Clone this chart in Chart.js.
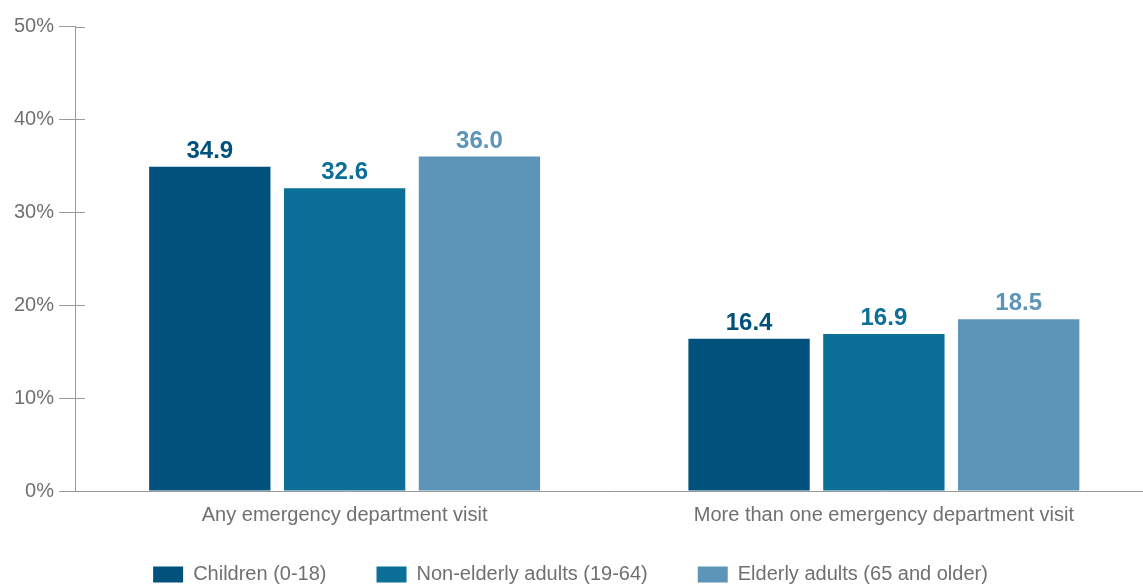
<!DOCTYPE html>
<html>
<head>
<meta charset="utf-8">
<script src="https://cdn.jsdelivr.net/npm/chart.js@4.4.1/dist/chart.umd.min.js"></script>
<style>
  html, body { margin: 0; padding: 0; background: #fff; overflow: hidden; }
  #wrap { position: relative; width: 1155px; height: 586px; }
</style>
</head>
<body>
<div id="wrap"><canvas id="chart"></canvas></div>
<script>
// Share of each age group with emergency department visits (%)
const categories = ['Any emergency department visit', 'More than one emergency department visit'];
const seriesNames = ['Children (0-18)', 'Non-elderly adults (19-64)', 'Elderly adults (65 and older)'];
const children = [34.9, 16.4];
const nonElderlyAdults = [32.6, 16.9];
const elderlyAdults = [36.0, 18.5];
const yTickValues = [0, 10, 20, 30, 40, 50];

const palette = ['#00527d', '#0b6f98', '#5d95b8'];
const axisColor = '#9a9a9a';
const textColor = '#707070';
const fontFamily = "'Liberation Sans', Arial, Helvetica, sans-serif";

// Bold value printed above every bar, in the bar's own colour
const valueLabels = {
  id: 'valueLabels',
  afterDatasetsDraw(chart) {
    const ctx = chart.ctx;
    ctx.save();
    ctx.font = `bold 24px ${fontFamily}`;
    ctx.textAlign = 'center';
    ctx.textBaseline = 'alphabetic';
    chart.data.datasets.forEach((ds, i) => {
      const meta = chart.getDatasetMeta(i);
      ctx.fillStyle = ds.backgroundColor;
      meta.data.forEach((bar, j) => {
        ctx.fillText(ds.data[j].toFixed(1), bar.x, bar.y - 9);
      });
    });
    ctx.restore();
  }
};

// Short tick stubs that cross the y axis into the plot
const innerTicks = {
  id: 'innerTicks',
  afterDraw(chart) {
    const ctx = chart.ctx;
    const y = chart.scales.y;
    const left = chart.chartArea.left;
    ctx.save();
    ctx.strokeStyle = axisColor;
    ctx.lineWidth = 1;
    y.ticks.forEach(t => {
      const py = Math.round(y.getPixelForValue(t.value)) + 0.5;
      ctx.beginPath();
      ctx.moveTo(left, py);
      ctx.lineTo(left + 10, py);
      ctx.stroke();
    });
    ctx.restore();
  }
};

new Chart(document.getElementById('chart'), {
  type: 'bar',
  data: {
    labels: categories,
    datasets: [
      { label: seriesNames[0], data: children, backgroundColor: palette[0] },
      { label: seriesNames[1], data: nonElderlyAdults, backgroundColor: palette[1] },
      { label: seriesNames[2], data: elderlyAdults, backgroundColor: palette[2] }
    ]
  },
  options: {
    responsive: true,
    maintainAspectRatio: false,
    animation: false,
    events: [],
    layout: { padding: { top: 26.5, bottom: -8.5, left: -12.5, right: 1.5 } },
    datasets: {
      bar: { categoryPercentage: 0.75, barPercentage: 0.9 }
    },
    scales: {
      x: {
        grid: { display: true, drawOnChartArea: false, drawTicks: false, color: 'rgba(0,0,0,0)' },
        border: { display: true, color: axisColor, width: 1 },
        ticks: { color: textColor, mirror: true, padding: -36, font: { family: fontFamily, size: 20 } },
        afterFit(scale) { scale.height = 23.5; }
      },
      y: {
        min: 0,
        max: 50,
        afterBuildTicks(scale) { scale.ticks = yTickValues.map(v => ({ value: v })); },
        grid: { drawOnChartArea: false, drawTicks: true, tickLength: 16, color: axisColor },
        border: { display: true, color: axisColor, width: 1 },
        ticks: {
          color: textColor,
          padding: 5,
          font: { family: fontFamily, size: 20 },
          callback: v => v + '%'
        },
        afterFit(scale) { scale.width = 87.5; }
      }
    },
    plugins: {
      tooltip: { enabled: false },
      legend: {
        position: 'bottom',
        labels: {
          boxWidth: 30,
          boxHeight: 16,
          padding: 50,
          color: textColor,
          font: { family: fontFamily, size: 20 }
        }
      }
    }
  },
  plugins: [valueLabels, innerTicks]
});
</script>
</body>
</html>
